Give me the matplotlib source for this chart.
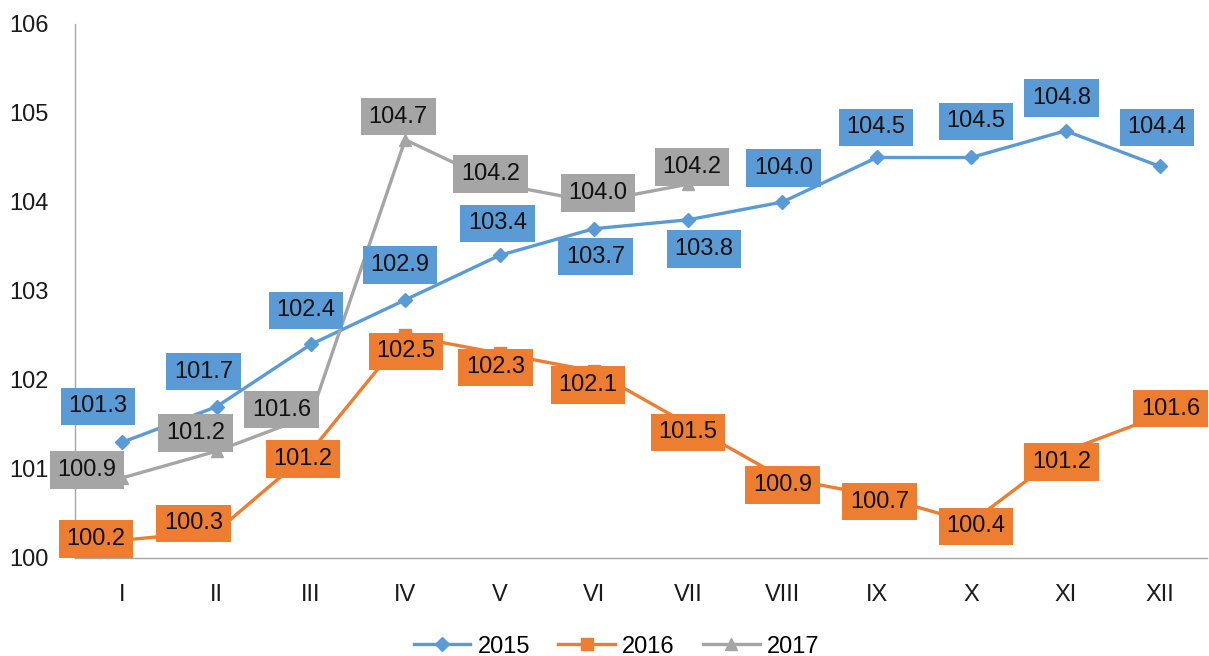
import matplotlib

matplotlib.use("Agg")
import matplotlib.pyplot as plt

plt.rcParams["font.family"] = ["Liberation Sans", "DejaVu Sans"]

months = ["I", "II", "III", "IV", "V", "VI", "VII", "VIII", "IX", "X", "XI", "XII"]
y2015 = [101.3, 101.7, 102.4, 102.9, 103.4, 103.7, 103.8, 104.0, 104.5, 104.5, 104.8, 104.4]
y2016 = [100.2, 100.3, 101.2, 102.5, 102.3, 102.1, 101.5, 100.9, 100.7, 100.4, 101.2, 101.6]
y2017 = [100.9, 101.2, 101.6, 104.7, 104.2, 104.0, 104.2]

# label offsets from the point, in pixels (x right, y up)
off2015 = [(-24, 36), (-13, 35), (-5, 34), (-5, 35), (-2, 32), (2, -28),
           (16, -29), (1, 34), (-1, 30), (5, 36), (-4, 33), (-3, 39)]
off2016 = [(-26, 1), (-23, 8), (-8, -8), (1, -16), (-4, -14), (-6, -14),
           (0, -8), (0, -7), (3, -6), (5, -4), (-4, -11), (11, 7)]
off2017 = [(-35, 8), (-21, 18), (-29, 6), (-7, 23), (-9, 10), (4, 9), (4, 17)]

series = [
    ("2015", y2015, off2015, "#5B9BD5", "D", 7),
    ("2016", y2016, off2016, "#ED7D31", "s", 8),
    ("2017", y2017, off2017, "#A5A5A5", "^", 8),
]

fig = plt.figure(figsize=(12.09, 6.56), dpi=100)
ax = fig.add_axes([75 / 1209, 1 - 558 / 656, 1132 / 1209, 534 / 656])

x = list(range(len(months)))
handles = []
for name, ys, offs, color, marker, ms in series:
    h, = ax.plot(x[:len(ys)], ys, color=color, lw=2.4, marker=marker, ms=ms,
                 label=name, zorder=2, clip_on=False)
    handles.append(h)

for name, ys, offs, color, marker, ms in series:
    for i, (v, (dx, dy)) in enumerate(zip(ys, offs)):
        ax.annotate(f"{v:.1f}", (i, v), xytext=(dx, dy), textcoords="offset pixels",
                    ha="center", va="center", fontsize=17, color="#111111",
                    bbox=dict(boxstyle="square,pad=0.33", fc=color, ec="none"),
                    zorder=5)

ax.set_xlim(-0.5, 11.5)
ax.set_ylim(100, 106)
ax.set_xticks(x)
ax.set_xticklabels(months)
ax.set_yticks(range(100, 107))
ax.tick_params(length=0, labelsize=17, labelcolor="#1a1a1a")
ax.tick_params(axis="y", pad=19)
ax.tick_params(axis="x", pad=19)
for side in ("top", "right"):
    ax.spines[side].set_visible(False)
for side in ("left", "bottom"):
    ax.spines[side].set_color("#A6A6A6")
    ax.spines[side].set_linewidth(1.0)

fig.legend(handles=handles, loc="lower center", bbox_to_anchor=(0.51, -0.035),
           ncol=3, frameon=False, fontsize=17, handlelength=2.4,
           columnspacing=1.2, handletextpad=0.3)

fig.savefig("out.png", dpi=100)
